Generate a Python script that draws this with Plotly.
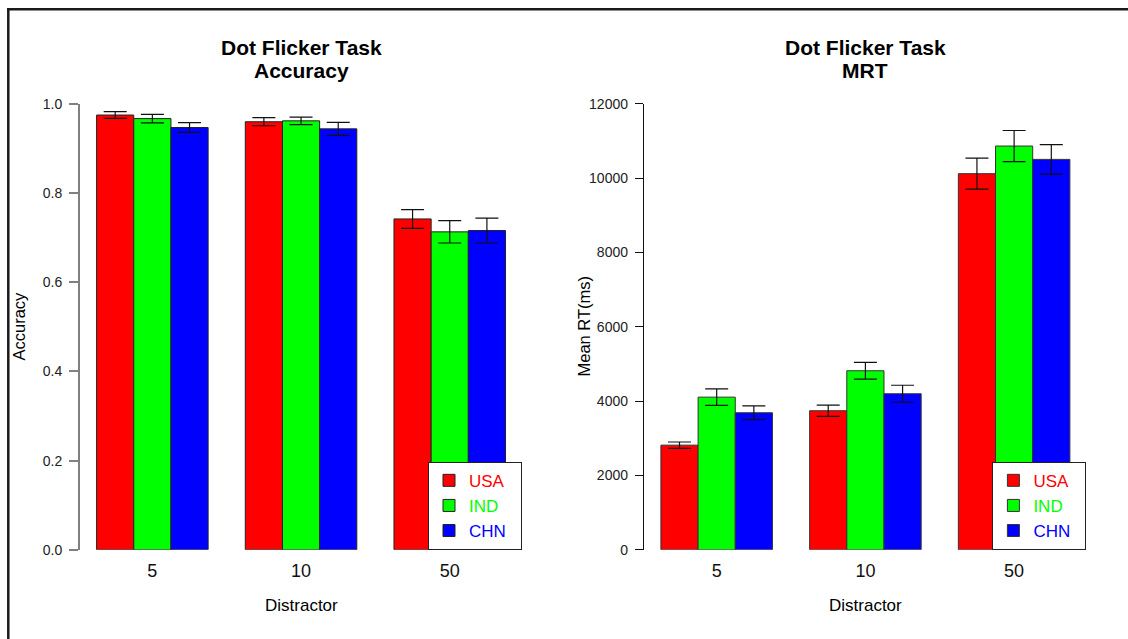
import plotly.graph_objects as go

# ---- data ----
categories = ["5", "10", "50"]
countries = ["USA", "IND", "CHN"]
colors = ["#ff0000", "#00ff00", "#0000ff"]

acc_usa = [0.975, 0.960, 0.742]
acc_ind = [0.967, 0.962, 0.713]
acc_chn = [0.947, 0.944, 0.716]
acc_err_usa = [0.0075, 0.009, 0.021]
acc_err_ind = [0.0095, 0.0085, 0.025]
acc_err_chn = [0.011, 0.0145, 0.028]

rt_usa = [2816, 3742, 10122]
rt_ind = [4108, 4818, 10866]
rt_chn = [3688, 4199, 10507]
rt_err_usa = [85, 152, 418]
rt_err_ind = [220, 223, 418]
rt_err_chn = [183, 229, 396]

acc_ticks = [0, 0.2, 0.4, 0.6, 0.8, 1.0]
rt_ticks = [0, 2000, 4000, 6000, 8000, 10000, 12000]

W, H = 1128, 639
FONT = "Arial, Liberation Sans, sans-serif"
# the captured page appears slightly shifted/compressed vertically; compensate
V_OFF, V_SC = 7.5, 0.975

def px_x(p):
    return p / W

def px_y(p):
    return 1 - ((p - V_OFF) / V_SC) / H

fig = go.Figure()

acc_vals = [acc_usa, acc_ind, acc_chn]
acc_errs = [acc_err_usa, acc_err_ind, acc_err_chn]
rt_vals = [rt_usa, rt_ind, rt_chn]
rt_errs = [rt_err_usa, rt_err_ind, rt_err_chn]

PAD = "\u00a0\u00a0"

for i, c in enumerate(countries):
    fig.add_trace(go.Bar(
        x=categories, y=acc_vals[i], name=f'<span style="color:{colors[i]}">{c}{PAD}</span>',
        marker=dict(color=colors[i], line=dict(color="#222222", width=1)),
        error_y=dict(type="data", array=acc_errs[i], color="#111111", thickness=1.2, width=11.5),
        xaxis="x", yaxis="y", legend="legend", offsetgroup=str(i),
    ))
for i, c in enumerate(countries):
    fig.add_trace(go.Bar(
        x=categories, y=rt_vals[i], name=f'<span style="color:{colors[i]}">{c}{PAD}</span>',
        marker=dict(color=colors[i], line=dict(color="#333333", width=1)),
        error_y=dict(type="data", array=rt_errs[i], color="#111111", thickness=1.2, width=11.5),
        xaxis="x2", yaxis="y2", legend="legend2", offsetgroup=str(i),
    ))

y_dom = [px_y(549.3), px_y(103.4)]
xcommon = dict(showline=False, showgrid=False, zeroline=False, ticks="",
               tickfont=dict(size=18, color="#111111", family=FONT),
               range=[-0.486, 2.486], fixedrange=True, ticklabelstandoff=8)

legend_common = dict(xanchor="right", y=px_y(549.3), yanchor="bottom",
                     bgcolor="white", bordercolor="#222222", borderwidth=1,
                     font=dict(size=17, family=FONT),
                     tracegroupgap=0, itemclick=False, itemdoubleclick=False)

fig.update_layout(
    width=W, height=H,
    margin=dict(l=0, r=0, t=0, b=0),
    paper_bgcolor="white", plot_bgcolor="white",
    barmode="group", bargap=0.25, bargroupgap=0,
    font=dict(family=FONT, color="#111111"),
    xaxis=dict(domain=[px_x(80.1), px_x(522)], anchor="y", **xcommon),
    xaxis2=dict(domain=[px_x(644.4), px_x(1086.4)], anchor="y2", **xcommon),
    yaxis=dict(domain=y_dom, anchor="x", range=[0, 1.0], tickvals=acc_ticks,
               tickformat=".1f", showgrid=False, zeroline=False,
               showline=True, linecolor="#808080", linewidth=2,
               ticks="outside", ticklen=9, tickwidth=1.5, tickcolor="#808080",
               tickfont=dict(size=14, color="#222222", family=FONT),
               ticklabelstandoff=4),
    yaxis2=dict(domain=y_dom, anchor="x2", range=[0, 12000], tickvals=rt_ticks,
                tickformat="d", showgrid=False, zeroline=False,
                showline=True, linecolor="#111111", linewidth=1.2,
                ticks="outside", ticklen=8.5, tickwidth=1.2, tickcolor="#111111",
                tickfont=dict(size=14, color="#222222", family=FONT),
                ticklabelstandoff=4),
    legend=dict(x=px_x(522), **legend_common),
    legend2=dict(x=px_x(1086.4), **legend_common),
)

ann = []
def add_text(text, x, y, size, bold=False, angle=0):
    ann.append(dict(text=f"<b>{text}</b>" if bold else text, x=px_x(x), y=px_y(y),
                    xref="paper", yref="paper", xanchor="center", yanchor="middle",
                    showarrow=False, textangle=angle,
                    font=dict(size=size, color="#000000", family=FONT)))

add_text("Dot Flicker Task", 301, 47.5, 21, bold=True)
add_text("Accuracy", 301, 70.5, 21, bold=True)
add_text("Dot Flicker Task", 865.3, 47.5, 21, bold=True)
add_text("MRT", 865.3, 70.5, 21, bold=True)
add_text("Distractor", 301, 605, 17)
add_text("Distractor", 865.3, 605, 17)
add_text("Accuracy", 19, 326, 16.5, angle=-90)
add_text("Mean RT(ms)", 584, 326, 16.5, angle=-90)
fig.update_layout(annotations=ann)

top_line_y = min(px_y(8.3), 1 - 1.3 / H)
fig.update_layout(shapes=[
    dict(type="line", xref="paper", yref="paper", x0=px_x(8.3), x1=px_x(8.3), y0=-0.02, y1=top_line_y,
         line=dict(color="#1a1a1a", width=2.5)),
    dict(type="line", xref="paper", yref="paper", x0=px_x(7), x1=1, y0=top_line_y, y1=top_line_y,
         line=dict(color="#1a1a1a", width=2.5)),
])

fig.write_html(
    "out.html",
    config={"displayModeBar": False},
    post_script=(
        "document.body.style.margin='0';document.body.style.padding='0';"
        "document.body.style.overflow='hidden';"
        "var gd=document.getElementById('{plot_id}');"
        "gd.style.position='absolute';gd.style.top='0px';gd.style.left='0px';"
    ),
)
